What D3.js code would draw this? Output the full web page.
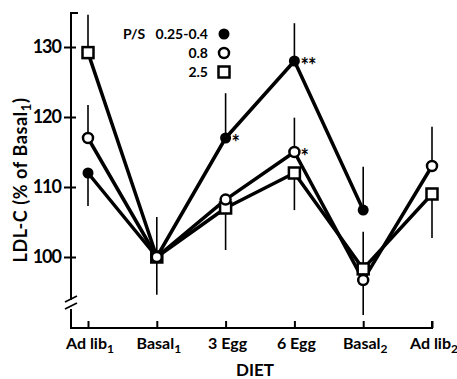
<!DOCTYPE html>
<html><head><meta charset="utf-8">
<script src="https://cdn.jsdelivr.net/npm/d3@7"></script>
<style>
body{margin:0;background:#fff;}
text{font-family:"Lato","Open Sans",sans-serif;font-weight:700;fill:#000;}
</style></head>
<body><svg id="c" width="457" height="379"></svg>
<script>
const categories = ["Ad lib", "Basal", "3 Egg", "6 Egg", "Basal", "Ad lib"];
const subscripts = ["1", "1", "", "", "2", "2"];
const yTicks = [100, 110, 120, 130];
const seriesNames = ["0.25-0.4", "0.8", "2.5"];
const lowPS = [112, 100, 117, 128, 106.7, null];
const midPS = [117, 100, 108.2, 115, 96.7, 113];
const highPS = [129.2, 100, 107, 112, 98.3, 109];
// single-sided error bar end values (null = none)
const lowErr = [107.3, 105.7, 123.4, 133.4, 112.9, null];
const midErr = [121.7, 94.6, null, 119.9, 91.7, 118.6];
const highErr = [134.6, null, 101, 106.7, 103.6, 102.7];
const stars = [null, null, "*", "**", null, null];
const midStars = [null, null, null, "*", null, null];

const svg = d3.select("#c");
const x = d3.scalePoint().domain(d3.range(categories.length)).range([88, 432]);
const y = d3.scaleLinear().domain([100, 130]).range([257, 47]);
const axX = 71, axBottom = 328, axTop = 13;

// Axes
const g = svg.append("g").attr("stroke", "#000").attr("stroke-width", 2).attr("fill", "none");
g.append("path").attr("d", `M${axX + 7},${axTop}H${axX}V${300}`);
g.append("path").attr("d", `M${axX},${309}V${axBottom}H${x(5)}V${axBottom - 7}`);
// break marks
g.append("path").attr("d", `M${axX - 6},${302}L${axX + 6},${296}M${axX - 6},${309}L${axX + 6},${303}`).attr("stroke-width", 1.8);

const yAxis = svg.append("g").attr("transform", `translate(${axX},0)`)
  .call(d3.axisLeft(y).tickValues(yTicks).tickSize(7).tickPadding(3));
yAxis.select(".domain").remove();
yAxis.selectAll(".tick line").attr("x2", -7).attr("x1", 5).attr("stroke-width", 2);
yAxis.selectAll(".tick text").attr("font-size", 18).attr("font-family", "Lato").attr("font-weight", 700).attr("letter-spacing", -1);

const xAxis = svg.append("g").attr("transform", `translate(0,${axBottom})`)
  .call(d3.axisBottom(x).tickSize(0).tickFormat(""));
xAxis.select(".domain").remove();
xAxis.selectAll(".tick line").attr("y2", -7).attr("stroke-width", 2);

const xl = svg.append("g");
categories.forEach((c, i) => {
  const t = xl.append("text").attr("x", x(i) + 2).attr("y", 349).attr("text-anchor", "middle").attr("font-size", 16);
  t.append("tspan").text(c);
  if (subscripts[i]) t.append("tspan").attr("dy", 4).attr("font-size", 12).text(subscripts[i]);
});
svg.append("text").attr("x", 255).attr("y", 376).attr("text-anchor", "middle").attr("font-size", 17).text("DIET");

const yl = svg.append("text").attr("transform", "translate(27,180) rotate(-90)").attr("text-anchor", "middle").attr("font-size", 18).attr("letter-spacing", 0.6);
yl.append("tspan").text("LDL-C (% of Basal");
yl.append("tspan").attr("dy", 4).attr("font-size", 13).text("1");
yl.append("tspan").attr("dy", -4).text(")");

// error bars
const series = [
  {vals: lowPS, err: lowErr, type: "filled"},
  {vals: midPS, err: midErr, type: "open"},
  {vals: highPS, err: highErr, type: "square"}
];
const eb = svg.append("g").attr("stroke", "#000").attr("stroke-width", 1.6);
series.forEach(s => s.err.forEach((e, i) => {
  if (e != null && s.vals[i] != null)
    eb.append("line").attr("x1", x(i)).attr("x2", x(i)).attr("y1", y(s.vals[i])).attr("y2", y(e));
}));

// lines
const line = d3.line().defined(d => d[1] != null).x(d => x(d[0])).y(d => y(d[1]));
series.slice().reverse().forEach(s => {
  svg.append("path").datum(s.vals.map((v, i) => [i, v])).attr("d", line)
    .attr("fill", "none").attr("stroke", "#000").attr("stroke-width", 3.5).attr("stroke-linejoin", "round");
});

// markers
function marker(sel, type, cx, cy) {
  if (type === "filled") sel.append("circle").attr("cx", cx).attr("cy", cy).attr("r", 5.5).attr("fill", "#000");
  else if (type === "open") sel.append("circle").attr("cx", cx).attr("cy", cy).attr("r", 5).attr("fill", "#fff").attr("stroke", "#000").attr("stroke-width", 2.5);
  else sel.append("rect").attr("x", cx - 5.5).attr("y", cy - 5.5).attr("width", 11).attr("height", 11).attr("fill", "#fff").attr("stroke", "#000").attr("stroke-width", 2.5);
}
const mk = svg.append("g");
[series[2], series[0], series[1]].forEach(s => s.vals.forEach((v, i) => {
  if (v != null) marker(mk, s.type, x(i), y(v));
}));

// significance stars
function star(i, v, s) {
  svg.append("text").attr("x", x(i) + 6).attr("y", y(v) + 12).attr("font-size", 20)
    .attr("font-family", "DejaVu Sans").attr("letter-spacing", -1).text(s);
}
stars.forEach((s, i) => { if (s) star(i, lowPS[i], s); });
midStars.forEach((s, i) => { if (s) star(i, midPS[i], s); });

// legend
const lg = svg.append("g");
lg.append("text").attr("x", 123).attr("y", 39).attr("font-size", 14).text("P/S");
const legY = [34, 53, 72];
seriesNames.forEach((n, i) => {
  lg.append("text").attr("x", 208).attr("y", legY[i] + 5).attr("text-anchor", "end").attr("font-size", 14).text(n);
  marker(lg, series[i].type, 224, legY[i]);
});
</script></body></html>
